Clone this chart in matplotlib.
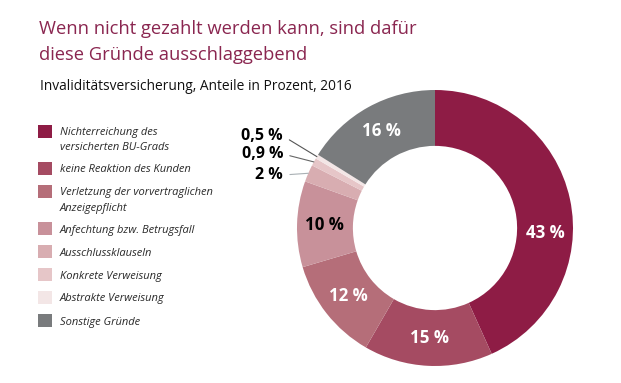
import numpy as np, matplotlib; matplotlib.use('Agg')
import matplotlib.pyplot as plt
from matplotlib.patches import Rectangle

W, H = 621, 383
plt.rcParams['font.family'] = ['Open Sans', 'DejaVu Sans']

categories = ['Nichterreichung des\nversicherten BU-Grads', 'keine Reaktion des Kunden',
              'Verletzung der vorvertraglichen\nAnzeigepflicht', 'Anfechtung bzw. Betrugsfall',
              'Ausschlussklauseln', 'Konkrete Verweisung', 'Abstrakte Verweisung', 'Sonstige Gründe']
values = [43, 15, 12, 10, 2, 0.9, 0.5, 16]
value_labels = ['43 %', '15 %', '12 %', '10 %', '2 %', '0,9 %', '0,5 %', '16 %']
colors = ['#8E1C45', '#A54B62', '#B56E79', '#C8919A', '#D8ADB1', '#E6C6C8', '#F3E6E6', '#797B7D']
label_colors = ['white', 'white', 'white', 'black', None, None, None, 'white']
title_lines = ['Wenn nicht gezahlt werden kann, sind dafür', 'diese Gründe ausschlaggebend']
subtitle = 'Invaliditätsversicherung, Anteile in Prozent, 2016'
TITLE = '#8A2650'

fig = plt.figure(figsize=(W/100, H/100), dpi=100)
fig.patch.set_facecolor('white')
ax = fig.add_axes([0, 0, 1, 1])
py = lambda y: H - y  # pixel-from-top -> data y

cx, cy, R = 435, py(228), 138
wedges, _ = ax.pie(values, colors=colors, startangle=90, counterclock=False, radius=R, center=(cx, cy),
                   wedgeprops=dict(width=R*0.405, edgecolor='none', linewidth=0))
ax.set_xlim(0, W); ax.set_ylim(0, H); ax.set_aspect('equal'); ax.axis('off')

# labels inside the ring
for i, w in enumerate(wedges):
    if label_colors[i] is None: continue
    ang = np.deg2rad((w.theta1 + w.theta2) / 2)
    if i == 0: ang = np.deg2rad(-2.5)
    r = R * 0.8
    ax.text(cx + r*np.cos(ang), cy + r*np.sin(ang), value_labels[i], color=label_colors[i],
            fontsize=12.2, fontweight='bold', ha='center', va='center')

# small slices with leader lines
small = {6: (136, '#555555'), 5: (154, '#666666'), 4: (175, '#A9B0B4')}
for i, (ty, lc) in small.items():
    w = wedges[i]; ang = np.deg2rad((w.theta1 + w.theta2) / 2)
    ax.annotate(value_labels[i], xy=(cx + R*np.cos(ang), cy + R*np.sin(ang)), xytext=(283, py(ty)),
                ha='right', va='center', fontsize=11.5, fontweight='bold', color='black',
                arrowprops=dict(arrowstyle='-', color=lc, lw=0.8, shrinkA=3, shrinkB=0, relpos=(1, 0.5)))

# legend
y = 131.5
for c, lab in zip(colors, categories):
    ax.add_patch(Rectangle((38, py(y) - 6.5), 14, 13, facecolor=c, edgecolor='none'))
    for k, line in enumerate(lab.split('\n')):
        ax.text(60, py(y + 4 + 15*k), line, fontsize=8.0, style='italic', color='#2A2A2A',
                ha='left', va='baseline')
    y += 23 + 14 * lab.count('\n')

for k, line in enumerate(title_lines):
    ax.text(39, py(34 + 26*k), line, fontsize=13.2, color=TITLE, ha='left', va='baseline')
ax.text(40, py(90), subtitle, fontsize=9.9, color='#111111', ha='left', va='baseline')

fig.savefig('out.png', dpi=100, facecolor='white')
plt.close()
